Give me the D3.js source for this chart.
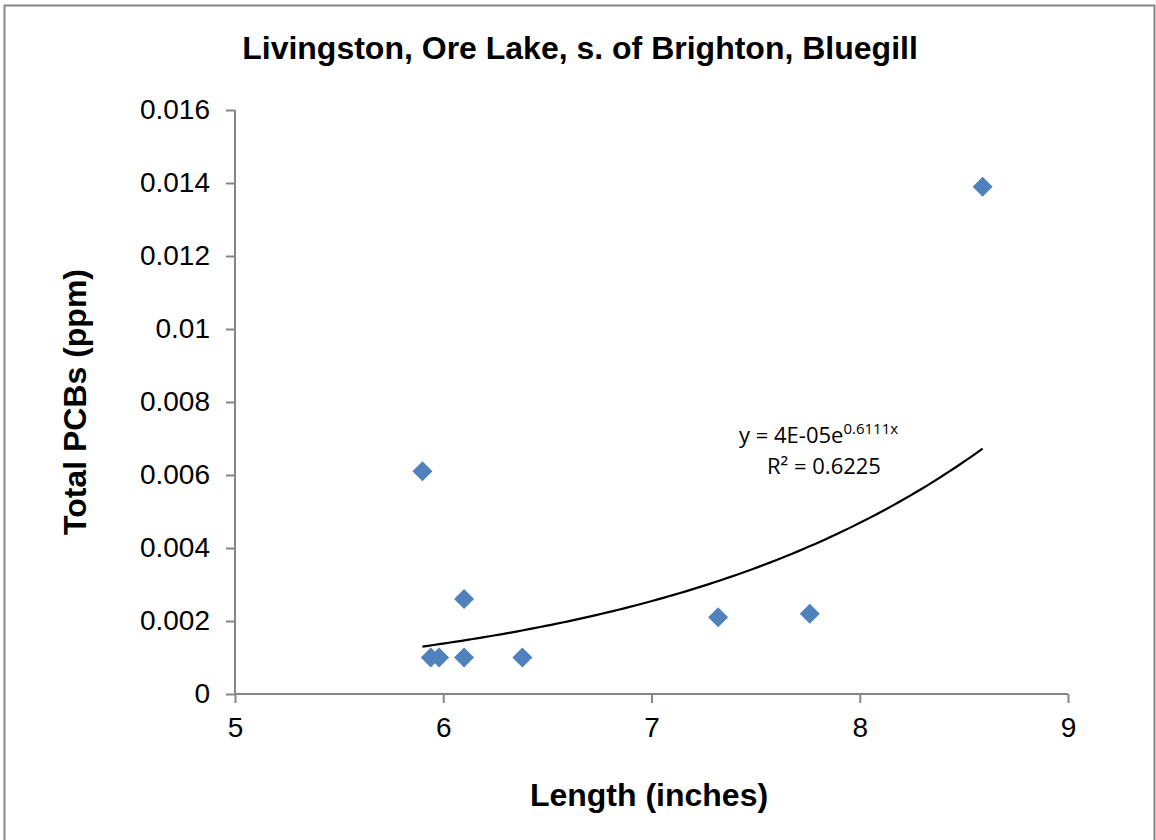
<!DOCTYPE html>
<html>
<head>
<meta charset="utf-8">
<script src="https://cdn.jsdelivr.net/npm/d3@7"></script>
<style>
  body { margin: 0; background: #fff; }
  svg { display: block; font-family: "Liberation Sans", Arial, sans-serif; }
</style>
</head>
<body>
<svg id="chart" width="1156" height="840"></svg>
<script>
// Chart values
const lengths = [5.9, 5.94, 5.98, 6.1, 6.1, 6.38, 7.32, 7.76, 8.59];
const pcbs = [0.0061, 0.001, 0.001, 0.0026, 0.001, 0.001, 0.0021, 0.0022, 0.0139];
const xTicks = [5, 6, 7, 8, 9];
const yTicks = [0, 0.002, 0.004, 0.006, 0.008, 0.01, 0.012, 0.014, 0.016];
const yTickLabels = ["0", "0.002", "0.004", "0.006", "0.008", "0.01", "0.012", "0.014", "0.016"];
// exponential trend y = a * e^(b x), as reported by the chart (a unrounded)
const trendCoef = [3.53e-5, 0.6111];

const width = 1156;
const height = 840;
const marginTop = 110;
const marginRight = 88;
const marginBottom = 146;
const marginLeft = 235;
const axisColor = "#868686";

const svg = d3.select("#chart");

// outer chart border (bottom edge falls outside the picture)
svg.append("rect")
  .attr("x", 4.5).attr("y", 5.5)
  .attr("width", 1150).attr("height", 860)
  .attr("fill", "none")
  .attr("stroke", axisColor)
  .attr("stroke-width", 2);

const xScale = d3.scaleLinear()
  .domain([5, 9])
  .range([marginLeft, width - marginRight]);

const yScale = d3.scaleLinear()
  .domain([0, 0.016])
  .range([height - marginBottom, marginTop]);

// x axis
svg.append("g")
  .attr("transform", `translate(0,${yScale(0)})`)
  .call(d3.axisBottom(xScale).tickValues(xTicks).tickSize(9).tickPadding(14).tickFormat(d3.format("d")))
  .call(g => g.select(".domain").attr("stroke", axisColor).attr("stroke-width", 2).attr("d", `M${xScale(5)},0H${xScale(9)}`))
  .call(g => g.selectAll(".tick line").attr("stroke", axisColor).attr("stroke-width", 2))
  .call(g => g.selectAll(".tick text").attr("font-size", 28).attr("fill", "#000"));

// y axis
svg.append("g")
  .attr("transform", `translate(${xScale(5)},0)`)
  .call(d3.axisLeft(yScale).tickValues(yTicks).tickSize(9).tickPadding(16)
    .tickFormat((d, i) => yTickLabels[i]))
  .call(g => g.select(".domain").attr("stroke", axisColor).attr("stroke-width", 2).attr("d", `M0,${yScale(0)}V${yScale(0.016)}`))
  .call(g => g.selectAll(".tick line").attr("stroke", axisColor).attr("stroke-width", 2))
  .call(g => g.selectAll(".tick text").attr("font-size", 28).attr("fill", "#000"));

// exponential trend line over the data range
const xMin = d3.min(lengths), xMax = d3.max(lengths);
const trendX = d3.range(0, 101).map(i => xMin + (xMax - xMin) * i / 100);

svg.append("path")
  .datum(trendX)
  .attr("fill", "none")
  .attr("stroke", "#000")
  .attr("stroke-width", 2.2)
  .attr("d", d3.line().x(d => xScale(d)).y(d => yScale(trendCoef[0] * Math.exp(trendCoef[1] * d))));

// diamond markers
svg.append("g")
  .attr("fill", "#4f81bd")
  .selectAll("path")
  .data(lengths)
  .join("path")
  .attr("transform", (d, i) => `translate(${xScale(d)},${yScale(pcbs[i])})`)
  .attr("d", "M0,-10L10,0L0,10L-10,0Z");

// trend equation label
const eq = svg.append("text")
  .attr("x", 739).attr("y", 443)
  .attr("font-family", "'Open Sans', 'Liberation Sans', sans-serif")
  .attr("font-size", 22)
  .attr("fill", "#000");
eq.append("tspan").text("y = 4E-05e");
eq.append("tspan").attr("dy", -9).attr("font-size", 15).text("0.6111x");

svg.append("text")
  .attr("x", 824).attr("y", 474)
  .attr("text-anchor", "middle")
  .attr("font-family", "'Open Sans', 'Liberation Sans', sans-serif")
  .attr("font-size", 22)
  .attr("fill", "#000")
  .text("R² = 0.6225");

// title
svg.append("text")
  .attr("x", 580).attr("y", 59)
  .attr("text-anchor", "middle")
  .attr("font-size", 32)
  .attr("font-weight", "bold")
  .text("Livingston, Ore Lake, s. of Brighton, Bluegill");

// axis titles
svg.append("text")
  .attr("x", 649).attr("y", 806)
  .attr("text-anchor", "middle")
  .attr("font-size", 32)
  .attr("font-weight", "bold")
  .text("Length (inches)");

svg.append("text")
  .attr("transform", `translate(86,${yScale(0.008)}) rotate(-90)`)
  .attr("text-anchor", "middle")
  .attr("font-size", 32)
  .attr("font-weight", "bold")
  .text("Total PCBs (ppm)");
</script>
</body>
</html>
